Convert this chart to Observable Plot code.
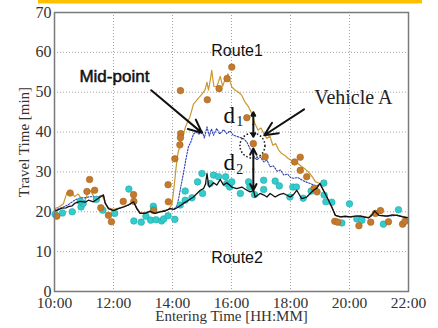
<!DOCTYPE html>
<html>
<head>
<meta charset="utf-8">
<script src="https://cdn.jsdelivr.net/npm/d3@7"></script>
<script src="https://cdn.jsdelivr.net/npm/@observablehq/plot@0.6"></script>
<style>
  html, body { margin: 0; padding: 0; background: #fff; }
  #wrap { width: 438px; height: 328px; }
</style>
</head>
<body>
<div id="wrap"></div>
<script>
// ---- tick values ----
const xTicks = [10, 12, 14, 16, 18, 20, 22];
const yTicks = [0, 10, 20, 30, 40, 50, 60, 70];

// ---- Route1 travel-time line (gold) [hour, minutes] ----
const route1Line = [
  [10.0,20.8],[10.15,21.2],[10.3,22],[10.42,24.8],[10.5,24.2],[10.58,24.9],[10.68,23.8],[10.8,24.5],
  [10.92,23.2],[11.02,22.6],[11.12,24.5],[11.22,25.3],[11.32,24],[11.42,22.6],[11.52,23.9],[11.62,24.1],
  [11.72,22.2],[11.83,21.0],[12.0,20.6],[12.17,20.9],[12.34,21.3],[12.51,21.8],[12.68,22.6],[12.79,21],
  [12.9,19.8],[13.07,19.8],[13.24,20.2],[13.41,19.8],[13.64,20.2],[13.87,20.6],[13.98,21.8],[14.05,26],
  [14.12,31],[14.18,34.5],[14.28,37.5],[14.37,39.5],[14.45,41.5],[14.6,44],[14.71,47],[14.88,48.5],
  [15.0,49.5],[15.1,50.5],[15.17,52.5],[15.22,50.5],[15.28,53],[15.33,55.5],[15.4,51.5],[15.5,51.3],
  [15.62,54],[15.7,51.5],[15.79,53.4],[15.88,54.6],[15.96,52.5],[16.01,51.3],[16.13,50.5],[16.24,50],
  [16.35,49.2],[16.46,47.5],[16.58,46.3],[16.69,44.6],[16.8,42],[16.9,40.5],[17.0,41],[17.1,39.6],
  [17.2,38.4],[17.3,39],[17.4,36.7],[17.5,37.1],[17.6,35.5],[17.7,34.6],[17.8,34.2],[17.9,33.5],
  [18.0,33],[18.1,32.8],[18.2,32.5],[18.3,31.8],[18.45,31],[18.58,30.2],[18.7,29.2],[18.85,27.5],
  [19.0,27.1],[19.17,24.6],[19.29,22.9],[19.4,21.2],[19.52,19.1],[19.69,18.8],[20.03,18.8],[20.37,19.0],
  [20.65,18.6],[20.85,20.2],[21.0,19.2],[21.27,19.0],[21.61,19.2],[21.95,18.6],[22.0,18.6]
];

// ---- Mid-point estimate line (blue dotted) ----
const midLine = [
  [10.0,20.4],[10.25,21],[10.47,21.8],[10.7,23],[10.87,23.5],[11.04,23.5],[11.2,23.8],[11.35,23.7],
  [11.5,23.8],[11.66,24.2],[11.72,22.3],[11.83,20.8],[12.0,20.3],[12.17,20.8],[12.34,21.2],[12.51,21.7],
  [12.68,22.5],[12.79,20.8],[12.9,19.6],[13.07,19.6],[13.24,20.1],[13.41,19.6],[13.58,20],[13.75,20.2],
  [13.92,20.8],[14.05,20.6],[14.15,21.5],[14.2,23],[14.3,27],[14.37,29.6],[14.45,33],[14.54,36.3],
  [14.62,37.5],[14.71,39.5],[14.8,40],[14.9,39.5],[15.0,40.4],[15.08,38.5],[15.17,41.3],[15.25,39],
  [15.32,40.8],[15.39,39.2],[15.5,40.9],[15.6,39.5],[15.73,40.6],[15.84,39.6],[15.95,40.3],[16.06,39.2],
  [16.23,38.8],[16.4,38.4],[16.52,37.5],[16.63,35.8],[16.75,34],[16.86,33],[16.97,33.8],[17.1,32.5],
  [17.2,33],[17.31,31.3],[17.42,31.5],[17.55,30.2],[17.66,30.5],[17.77,29.2],[17.9,29.5],[18.0,28.6],
  [18.1,28.4],[18.25,28.6],[18.45,27.7],[18.6,27.3],[18.79,26.7],[18.9,26.5],[19.0,27],[19.17,24.6],
  [19.29,22.9],[19.4,21.2],[19.52,19.1],[19.69,18.7],[20.03,18.7],[20.37,18.9],[20.65,18.5],[20.85,20.2],
  [21.0,19.1],[21.27,18.9],[21.61,19.1],[21.95,18.5],[22.0,18.6]
];

// ---- Route2 travel-time line (black) ----
const route2Line = [
  [10.0,20.2],[10.1,20.4],[10.25,20.9],[10.4,21.0],[10.47,21.3],[10.6,21.5],[10.7,22.2],[10.87,22.6],
  [11.04,22.4],[11.15,22.9],[11.32,22.5],[11.49,23.4],[11.66,24.2],[11.72,22.1],[11.83,20.8],[12.0,20.3],
  [12.17,20.8],[12.34,21.2],[12.51,21.7],[12.68,22.5],[12.79,20.8],[12.9,19.6],[13.07,19.6],[13.24,20.1],
  [13.41,19.6],[13.58,20],[13.75,20.2],[13.92,20.8],[14.05,20.6],[14.2,21.2],[14.37,22.1],[14.54,22.9],
  [14.71,23.7],[14.83,24.6],[14.94,25.4],[15.05,25.8],[15.12,27],[15.17,29.6],[15.22,26.8],[15.25,26.2],
  [15.39,27.3],[15.5,26.7],[15.62,28.1],[15.73,26.7],[15.84,27.3],[16.01,26.2],[16.18,25.8],[16.35,26.2],
  [16.52,25.4],[16.63,25.0],[16.75,25.3],[16.8,23.7],[16.97,24.6],[17.1,24.2],[17.2,23.7],[17.31,24.6],
  [17.48,23.7],[17.62,24.3],[17.77,24.6],[17.99,23.7],[18.1,24.3],[18.21,25.4],[18.38,23.3],[18.55,23.7],
  [18.78,25.4],[18.9,26],[19.0,27.1],[19.17,24.6],[19.29,22.9],[19.4,21.2],[19.52,19.1],[19.69,18.7],
  [19.85,18.9],[20.03,18.7],[20.2,18.9],[20.37,18.9],[20.55,18.6],[20.65,18.5],[20.75,19.0],[20.85,20.2],
  [21.0,19.1],[21.15,19.0],[21.27,18.9],[21.45,19.2],[21.61,19.1],[21.8,18.7],[21.95,18.5],[22.0,18.6]
];

// ---- Route1 observed vehicles (brown dots) ----
const route1Points = [
  [10.08,18.9],[10.53,24.7],[11.1,25.1],[11.19,28.1],[11.36,25.4],[11.57,21],[11.83,19.1],[11.93,17.5],
  [12.33,22.6],[12.68,24.3],[12.69,22.6],[13.36,20.3],[13.85,26.8],[13.86,22.5],[14.08,33.3],[14.25,36.8],
  [14.28,39.6],[14.27,38.6],[14.27,50.4],[15.18,48.1],[15.58,50.9],[15.85,53.4],[16.01,56.3],[16.52,43.6],
  [16.74,37.1],[17.14,33.8],[18.14,32.5],[18.33,33.7],[18.33,30.4],[18.55,28.8],[18.8,25.9],[18.9,25],
  [19.5,17.6],[19.6,17.4],[20.32,16.5],[20.72,17.4],[20.88,19.6],[21.05,20.3],[21.32,17.5],[21.8,16.9],
  [21.88,17.6]
];

// ---- Route2 observed vehicles (cyan dots) ----
const route2Points = [
  [10.02,19.4],[10.27,19.7],[10.6,20.0],[10.9,21.2],[10.97,22.1],[10.87,22.6],[11.42,23.1],[11.64,20.4],
  [12.04,19.6],[12.52,25.7],[12.69,17.7],[12.94,17.4],[13.1,18.9],[13.35,21.4],[13.36,20.6],[13.26,17.9],
  [13.44,18.0],[13.63,17.7],[13.7,18.2],[13.85,19.0],[14.08,18.1],[14.26,21.7],[14.43,22.9],[14.43,25.2],
  [14.66,23.5],[14.85,27.5],[15.0,29.6],[15.02,24.6],[15.28,27.1],[15.39,29.2],[15.56,28.8],[15.8,28.8],
  [15.84,27.1],[15.94,26.2],[16.01,27.5],[16.3,24.6],[16.58,27.5],[16.62,26.2],[16.78,24.3],[17.09,27.9],
  [17.09,25.6],[17.48,27.7],[17.62,26.5],[17.98,23.7],[18.08,26.2],[18.2,26.2],[18.43,23.4],[18.7,25.2],
  [19.13,27.2],[19.14,24.2],[19.2,22.5],[19.4,22.4],[20.0,22.0],[19.74,17.2],[20.25,18.2],[20.42,17.9],
  [21.15,16.9],[21.66,20.5]
];

// ---- annotations ----
const routeLabels = [
  {x: 16.19, y: 60.3, text: "Route1"},
  {x: 16.19, y: 8.4, text: "Route2"}
];
const midLabel = {x: 12.03, y: 54.0, text: "Mid-point"};
const vehicleLabel = {x: 20.13, y: 48.6, text: "Vehicle A"};
const dLabels = [
  {x: 15.92, y: 42.2, text: "d"},
  {x: 15.92, y: 30.4, text: "d"}
];
const dSubs = [
  {x: 16.28, y: 41.5, text: "1"},
  {x: 16.28, y: 29.4, text: "2"}
];
const pointerArrows = [
  {x1: 13.28, y1: 50.5, x2: 15.0, y2: 39.8},
  {x1: 18.46, y1: 45.7, x2: 17.11, y2: 39.2}
];
const distArrows = [
  {x1: 16.74, y1: 41.9, x2: 16.74, y2: 45.0},
  {x1: 16.74, y1: 41.9, x2: 16.74, y2: 38.8},
  {x1: 16.74, y1: 30.65, x2: 16.74, y2: 35.9},
  {x1: 16.74, y1: 30.65, x2: 16.74, y2: 25.4}
];
const vehicleCircle = [{x: 16.71, y: 36.6}];

const serif = "'Liberation Serif', 'Times New Roman', serif";
const sans = "'Liberation Sans', Arial, sans-serif";

const chart = Plot.plot({
  width: 438,
  height: 328,
  marginLeft: 54,
  marginRight: 30,
  marginTop: 12,
  marginBottom: 37,
  style: {fontFamily: serif, fontSize: "16px", color: "#333", background: "#fff"},
  x: {domain: [10, 22], label: null},
  y: {domain: [0, 70], label: null},
  marks: [
    Plot.gridX(xTicks.slice(1, -1), {stroke: "#8a8a8a", strokeOpacity: 1, strokeWidth: 0.8, strokeDasharray: "1,2"}),
    Plot.gridY(yTicks.slice(1, -1), {stroke: "#8a8a8a", strokeOpacity: 1, strokeWidth: 0.8, strokeDasharray: "1,2"}),
    Plot.line(route1Line, {x: d => d[0], y: d => d[1], stroke: "#C9982F", strokeWidth: 1.2}),
    Plot.line(midLine, {x: d => d[0], y: d => d[1], stroke: "#2f3fb0", strokeWidth: 1.1, strokeDasharray: "1.5,1.5"}),
    Plot.dot(route2Points, {x: d => d[0], y: d => d[1], r: 3.3, fill: "#33CCCC", stroke: "#22aaaa", strokeWidth: 0.6}),
    Plot.dot(route1Points, {x: d => d[0], y: d => d[1], r: 3.3, fill: "#C47A2C", stroke: "#a86420", strokeWidth: 0.6}),
    Plot.line(route2Line, {x: d => d[0], y: d => d[1], stroke: "#111", strokeWidth: 1.3}),
    Plot.dot(vehicleCircle, {x: "x", y: "y", r: 12.5, fill: "none", stroke: "#111", strokeWidth: 1.5, strokeDasharray: "1.5,2"}),
    Plot.arrow(pointerArrows, {x1: "x1", y1: "y1", x2: "x2", y2: "y2", stroke: "#111", strokeWidth: 2, headLength: 11, headAngle: 50}),
    Plot.arrow(distArrows, {x1: "x1", y1: "y1", x2: "x2", y2: "y2", stroke: "#111", strokeWidth: 2, headLength: 9, headAngle: 55}),
    Plot.text(routeLabels, {x: "x", y: "y", text: "text", fontFamily: sans, fontSize: 16, fill: "#111"}),
    Plot.text([midLabel], {x: "x", y: "y", text: "text", fontFamily: sans, fontSize: 17, fill: "#111", stroke: "#111", strokeWidth: 0.5}),
    Plot.text([vehicleLabel], {x: "x", y: "y", text: "text", fontFamily: serif, fontSize: 20, fill: "#222"}),
    Plot.text(dLabels, {x: "x", y: "y", text: "text", fontFamily: serif, fontSize: 23, lineAnchor: "bottom", fill: "#111"}),
    Plot.text(dSubs, {x: "x", y: "y", text: "text", fontFamily: serif, fontSize: 14, lineAnchor: "bottom", fill: "#111"}),
    Plot.frame({stroke: "#7a7a7a", strokeWidth: 1.5}),
    Plot.axisX({ticks: xTicks, tickFormat: h => `${h}:00`, tickSize: 0, tickPadding: 5, fontSize: 15.5, fill: "#333"}),
    Plot.axisY({ticks: yTicks, tickSize: 0, tickPadding: 3, fontSize: 16, fill: "#333"}),
    Plot.text(["Entering Time [HH:MM]"], {frameAnchor: "bottom", dy: 29, fontFamily: serif, fontSize: 15, fill: "#333"}),
    Plot.text(["Travel Time [min]"], {x: 10, y: 37.5, dx: -30, rotate: -90, fontFamily: serif, fontSize: 15, fill: "#333"})
  ]
});
// decorative yellow band along the very top of the figure
d3.select(chart).append("rect")
  .attr("x", 38).attr("y", 0).attr("width", 384).attr("height", 3.5)
  .attr("fill", "#FFC000");
document.getElementById("wrap").appendChild(chart);
</script>
</body>
</html>
